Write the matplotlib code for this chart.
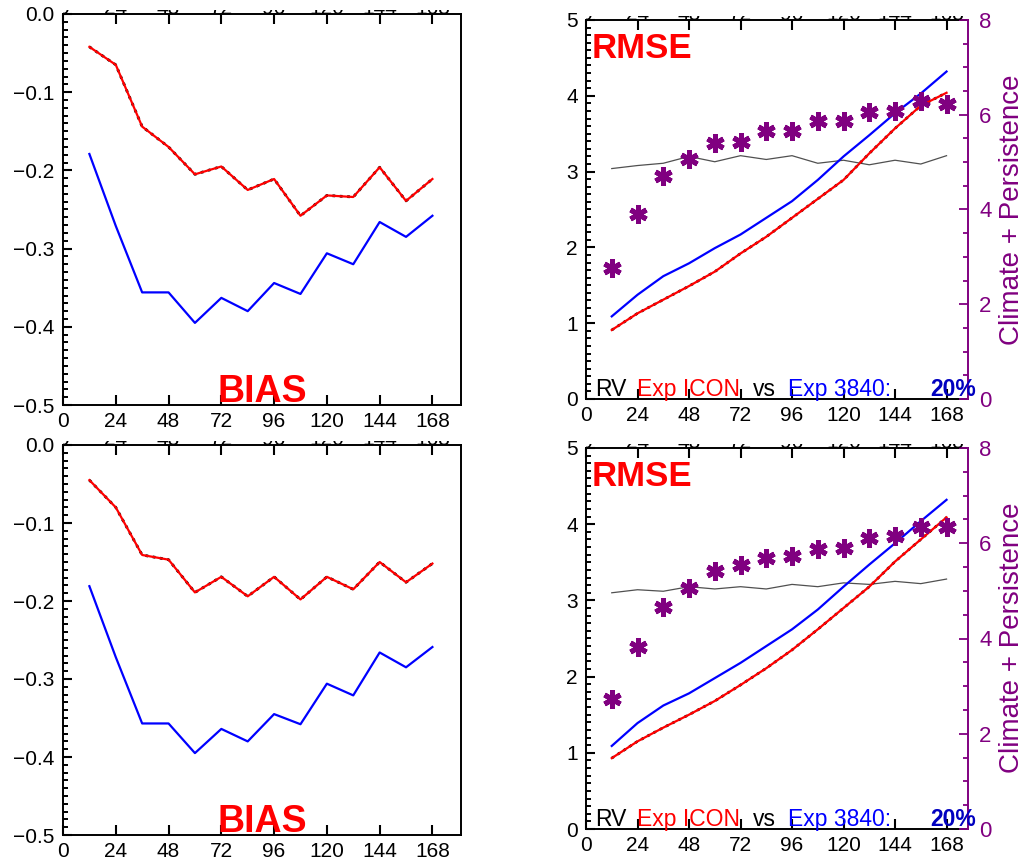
import matplotlib
matplotlib.use('Agg')
import matplotlib.pyplot as plt
import matplotlib.ticker as ticker

plt.rcParams['font.family'] = ['Liberation Sans', 'DejaVu Sans']
plt.rcParams['axes.linewidth'] = 1.4
plt.rcParams['xtick.direction'] = 'in'
plt.rcParams['ytick.direction'] = 'in'
plt.rcParams['xtick.major.size'] = 7.5
plt.rcParams['xtick.major.width'] = 1.5
plt.rcParams['ytick.major.size'] = 6.5
plt.rcParams['ytick.major.width'] = 1.5
plt.rcParams['ytick.minor.size'] = 3.5
plt.rcParams['ytick.minor.width'] = 1.4
plt.rcParams['xtick.labelsize'] = 15
plt.rcParams['ytick.labelsize'] = 15

# forecast lead time [h]
hours = [12, 24, 36, 48, 60, 72, 84, 96, 108, 120, 132, 144, 156, 168]
xticks = [0, 24, 48, 72, 96, 120, 144, 168]

# BIAS, upper row
bias_icon_1 = [-0.042, -0.065, -0.144, -0.170, -0.205, -0.195, -0.225,
               -0.211, -0.258, -0.232, -0.234, -0.196, -0.239, -0.211]
bias_3840_1 = [-0.179, -0.271, -0.356, -0.356, -0.395, -0.363, -0.380,
               -0.344, -0.358, -0.306, -0.320, -0.266, -0.285, -0.258]
# BIAS, lower row
bias_icon_2 = [-0.045, -0.080, -0.141, -0.147, -0.189, -0.169, -0.194,
               -0.169, -0.198, -0.169, -0.185, -0.150, -0.176, -0.152]
bias_3840_2 = [-0.181, -0.272, -0.357, -0.357, -0.395, -0.364, -0.380,
               -0.345, -0.358, -0.306, -0.321, -0.266, -0.285, -0.259]

# RMSE, upper row
rmse_icon_1 = [0.91, 1.13, 1.31, 1.49, 1.68, 1.92, 2.14, 2.39, 2.64, 2.89, 3.24, 3.57, 3.87, 4.04]
rmse_3840_1 = [1.09, 1.375, 1.62, 1.79, 1.99, 2.17, 2.39, 2.61, 2.89, 3.20, 3.48, 3.77, 4.03, 4.32]
rv_1 = [3.04, 3.08, 3.11, 3.20, 3.13, 3.21, 3.16, 3.21, 3.11, 3.15, 3.09, 3.15, 3.10, 3.21]
clim_1 = [2.76, 3.91, 4.70, 5.06, 5.41, 5.43, 5.66, 5.66, 5.86, 5.86, 6.05, 6.08, 6.28, 6.23]
# RMSE, lower row
rmse_icon_2 = [0.93, 1.15, 1.33, 1.50, 1.68, 1.89, 2.11, 2.35, 2.62, 2.90, 3.18, 3.51, 3.80, 4.09]
rmse_3840_2 = [1.09, 1.39, 1.62, 1.78, 1.98, 2.18, 2.40, 2.62, 2.88, 3.18, 3.47, 3.75, 4.04, 4.32]
rv_2 = [3.10, 3.14, 3.12, 3.18, 3.15, 3.18, 3.15, 3.21, 3.18, 3.23, 3.21, 3.25, 3.22, 3.28]
clim_2 = [2.73, 3.83, 4.66, 5.07, 5.41, 5.55, 5.69, 5.74, 5.88, 5.90, 6.11, 6.16, 6.35, 6.35]

PURPLE = '#800080'
W, H = 1026, 863
fig = plt.figure(figsize=(W / 100, H / 100), dpi=100)


def rect(x0, x1, ytop, ybot):
    return [x0 / W, 1 - ybot / H, (x1 - x0) / W, (ybot - ytop) / H]


def cut_labels(x0, x1, ytop, xmax):
    # bottom of the cut-off labels from the panel above, in a thin strip
    sa = fig.add_axes(rect(x0, x1, ytop - 4, ytop))
    sa.set_xlim(0, xmax)
    sa.set_ylim(0, 1)
    sa.axis('off')
    for t in xticks:
        sa.text(t, 0.0, str(t), ha='center', va='baseline', fontsize=15,
                clip_on=True)


def style(ax, xmax):
    ax.set_xlim(0, xmax)
    ax.xaxis.set_major_locator(ticker.FixedLocator(xticks))
    ax.tick_params(which='both', top=True, right=False)
    ax.tick_params(axis='x', pad=5)
    ax.tick_params(axis='y', pad=6)


def bias_panel(x0, x1, ytop, ybot, icon, exp):
    ax = fig.add_axes(rect(x0, x1, ytop, ybot))
    ax.plot(hours, icon, linestyle=':', color='k', lw=2.0)
    ax.plot(hours, icon, color='red', lw=1.6)
    ax.plot(hours, exp, color='blue', lw=1.6)
    ax.set_ylim(-0.5, 0.0)
    ax.yaxis.set_major_locator(ticker.MultipleLocator(0.1))
    ax.yaxis.set_minor_locator(ticker.MultipleLocator(0.01))
    style(ax, 181)
    ax.text(0.5, 0.008, 'BIAS', transform=ax.transAxes, ha='center', va='baseline',
            color='red', fontsize=27, fontweight='bold')
    cut_labels(x0, x1, ytop, 181)
    return ax


def rmse_panel(x0, x1, ytop, ybot, icon, exp, rv, clim):
    ax = fig.add_axes(rect(x0, x1, ytop, ybot))
    ax.plot(hours, rv, color='#505050', lw=0.9)
    ax.plot(hours, icon, linestyle=':', color='k', lw=1.9)
    ax.plot(hours, icon, color='red', lw=1.6)
    ax.plot(hours, exp, color='blue', lw=1.6)
    ax.set_ylim(0, 5)
    ax.yaxis.set_major_locator(ticker.MultipleLocator(1))
    ax.yaxis.set_minor_locator(ticker.MultipleLocator(0.1))
    style(ax, 178)
    ax.spines['right'].set_visible(False)

    ax2 = ax.twinx()
    ax2.plot(hours, clim, linestyle='none', marker=(6, 2, 0), ms=13, mew=3.6,
             color=PURPLE, mec=PURPLE)
    ax2.set_ylim(0, 8)
    ax2.yaxis.set_major_locator(ticker.MultipleLocator(2))
    ax2.yaxis.set_minor_locator(ticker.MultipleLocator(0.5))
    ax2.tick_params(which='both', colors=PURPLE, labelsize=16, width=1.3, pad=8)
    ax2.tick_params(which='major', length=6.5)
    ax2.tick_params(which='minor', length=3.5)
    for side in ['left', 'top', 'bottom']:
        ax2.spines[side].set_visible(False)
    ax2.spines['right'].set_color(PURPLE)

    ax.text(0.016, 0.90, 'RMSE', transform=ax.transAxes, ha='left', va='baseline',
            color='red', fontsize=25, fontweight='bold')
    parts = [(0.024, 'RV', 'k', 'normal'),
             (0.134, 'Exp ICON', 'red', 'normal'),
             (0.437, 'vs', 'k', 'normal'),
             (0.529, 'Exp 3840:', 'blue', 'normal'),
             (0.900, '20%', '#0000c0', 'bold')]
    for x, s, c, w in parts:
        ax2.text(x, 0.008, s, transform=ax.transAxes, ha='left', va='baseline',
                 color=c, fontsize=16.5, fontweight=w, zorder=5)
    cut_labels(x0, x1, ytop, 178)
    return ax, ax2


bias_panel(63, 461, 14, 405, bias_icon_1, bias_3840_1)
bias_panel(63, 461, 445, 835, bias_icon_2, bias_3840_2)
rmse_panel(586, 968, 20, 399, rmse_icon_1, rmse_3840_1, rv_1, clim_1)
rmse_panel(586, 968, 448, 829, rmse_icon_2, rmse_3840_2, rv_2, clim_2)

for yc in [210, 638]:
    fig.text(1012 / W, 1 - yc / H, 'Climate + Persistence', rotation=90,
             ha='center', va='center', color=PURPLE, fontsize=20)

fig.savefig('out.png', dpi=100)
